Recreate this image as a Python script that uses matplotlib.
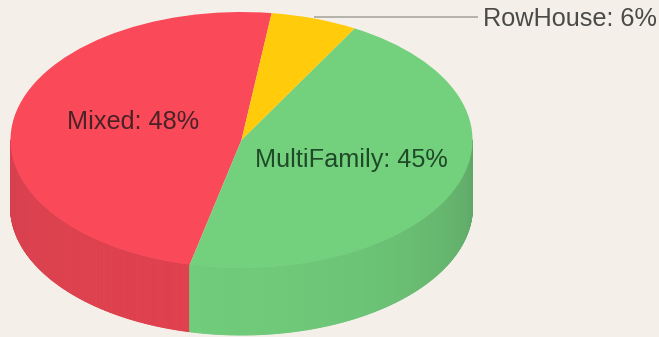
import numpy as np
import matplotlib
matplotlib.use("Agg")
import matplotlib.pyplot as plt
from matplotlib.collections import PolyCollection
from matplotlib.colors import to_rgb

categories = ["Mixed", "MultiFamily", "RowHouse"]
shares = [48, 45, 6]
top_colors = ["#FA4A5A", "#73D07C", "#FFCB0B"]
wall_stops = {
    "Mixed": ([180, 215, 257.5], ["#D8404F", "#DC414E", "#E0404E"]),
    "MultiFamily": ([257.5, 300, 335, 360], ["#70CD7A", "#6CC576", "#65B46E", "#60A868"]),
}
background = "#F4F0E9"

WIDTH, HEIGHT = 659, 337
CX, CY, RX, RY, DEPTH = 241.5, 140.0, 231.0, 128.0, 67.0
START_ANGLE = 82.5

plt.rcParams["font.family"] = ["Liberation Sans", "DejaVu Sans"]

fig = plt.figure(figsize=(WIDTH / 100, HEIGHT / 100), dpi=100, facecolor=background)
ax = fig.add_axes([0, 0, 1, 1], facecolor=background)


def pos(px, py):
    """Convert image pixel positions to the unit-circle data space."""
    return (px - CX) / RX, (CY - py) / RY


# Top face of the disc: unequal axis scales turn the circle into an ellipse.
ax.pie(shares, colors=top_colors, startangle=START_ANGLE, counterclock=True,
       radius=1.0, center=(0, 0), wedgeprops={"linewidth": 0, "zorder": 3})
ax.set_aspect("auto")
ax.set_xlim(pos(0, 0)[0], pos(WIDTH, 0)[0])
ax.set_ylim(pos(0, HEIGHT)[1], pos(0, 0)[1])
ax.set_axis_off()

# Side wall: narrow shaded strips along the visible front half of each slice.
drop = DEPTH / RY
edges = START_ANGLE + np.cumsum([0] + shares) / sum(shares) * 360.0
for name, a0, a1 in zip(categories, edges[:-1], edges[1:]):
    if name not in wall_stops:
        continue
    lo, hi = max(a0, 180.0), min(a1, 360.0)
    steps = np.linspace(lo, hi, int((hi - lo) * 2) + 2)
    stops, hexes = wall_stops[name]
    rgb = np.array([to_rgb(c) for c in hexes])
    polys, fills = [], []
    for s0, s1 in zip(steps[:-1], steps[1:]):
        t = np.radians([s0, s1])
        x, y = np.cos(t), np.sin(t)
        polys.append([(x[0], y[0]), (x[1], y[1]), (x[1], y[1] - drop), (x[0], y[0] - drop)])
        mid = (s0 + s1) / 2
        fills.append([np.interp(mid, stops, rgb[:, k]) for k in range(3)])
    ax.add_collection(PolyCollection(polys, facecolors=fills, edgecolors="face",
                                     linewidths=0.7, zorder=2))

# Leader line and slice labels.
lx0, ly0 = pos(314, 17)
lx1, ly1 = pos(478, 17)
ax.plot([lx0, lx1], [ly0, ly1], color="#B5B2AC", lw=1.4, zorder=4, solid_capstyle="butt")

label_font = 18.2
texts = [
    (f"{categories[0]}: {shares[0]}%", 67, 122, "#4A2226"),
    (f"{categories[1]}: {shares[1]}%", 255, 160, "#1F4A28"),
    (f"{categories[2]}: {shares[2]}%", 483, 19, "#4A4A48"),
]
for label, px, py, color in texts:
    x, y = pos(px, py)
    ax.text(x, y, label, color=color, fontsize=label_font, ha="left", va="center", zorder=5)

fig.savefig("out.png", dpi=100, facecolor=background)
